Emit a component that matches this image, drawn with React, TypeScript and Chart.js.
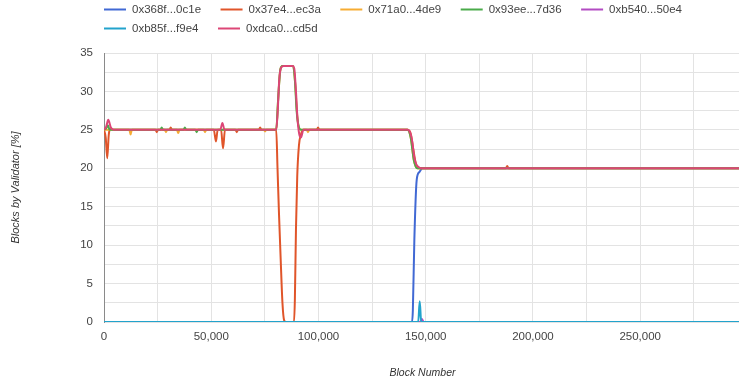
import React, { useEffect, useRef } from 'react';
import { Chart, registerables } from 'chart.js';

Chart.register(...registerables);

// ---- Data ----
const validatorLabels = [
  '0x368f...0c1e',
  '0x37e4...ec3a',
  '0x71a0...4de9',
  '0x93ee...7d36',
  '0xb540...50e4',
  '0xb85f...f9e4',
  '0xdca0...cd5d',
];
const validatorColors = ['#4169d4', '#e0552a', '#f6ac33', '#4aab4a', '#b24bc2', '#22a3cc', '#dc4676'];

const blocks368f = [0, 143600, 144000, 144700, 145800, 147000, 148500, 150000, 297000];
const share368f = [0, 0, 1.5, 10.7, 18.5, 19.5, 20, 20, 20];

const blocks37e4 = [0, 800, 1500, 2200, 3000, 4000, 24000, 24600, 25200, 30500, 31100, 31700, 51200, 52200, 53000, 54600, 55500, 56400, 61300, 61900, 62500, 72200, 72800, 73400, 80300, 80900, 81600, 82400, 83200, 84000, 84800, 88600, 89000, 89500, 90100, 90900, 91800, 93000, 99200, 99800, 100400, 141500, 143000, 144200, 145500, 147000, 187400, 188000, 188600, 297000];
const share37e4 = [25, 24, 21.3, 24.3, 25.2, 25, 25, 24.7, 25, 25, 25.3, 25, 25, 23.5, 25, 25, 22.6, 25, 25, 24.7, 25, 25, 25.3, 25, 25, 20, 14, 8, 2.5, 0.2, 0, 0, 3, 12, 19, 23, 24.4, 25, 25, 25.3, 25, 25, 24.5, 22.5, 20.5, 20, 20, 20.3, 20, 20];

const blocks71a0 = [0, 11800, 12400, 13000, 28300, 28900, 29500, 34000, 34600, 35200, 46500, 47100, 47700, 74500, 75100, 75700, 80300, 81200, 82200, 83200, 88200, 89000, 90200, 91600, 94500, 95100, 95700, 141500, 143000, 144500, 146000, 297000];
const share71a0 = [25, 25, 24.4, 25, 25, 24.7, 25, 25, 24.6, 25, 25, 24.7, 25, 25, 24.8, 25, 25, 29, 32.8, 33.3, 33.3, 31.5, 26.5, 25, 25, 24.7, 25, 25, 24, 21, 20, 20];

const blocks93ee = [0, 1000, 1800, 2600, 26300, 26900, 27500, 37100, 37700, 38300, 42600, 43200, 43800, 80300, 81200, 82200, 83200, 88200, 89000, 89800, 90500, 91300, 92300, 141500, 143000, 144500, 146000, 297000];
const share93ee = [25, 25.2, 25.6, 25, 25, 25.3, 25, 25, 25.3, 25, 25, 24.7, 25, 25, 29, 32.8, 33.3, 33.3, 31.5, 27.5, 25.8, 25.1, 25, 25, 24, 21, 20, 20];

const blocksb540 = [0, 147500, 148200, 149000, 297000];
const shareb540 = [0, 0, 0.4, 0, 0];

const blocksb85f = [0, 146500, 147200, 147900, 297000];
const shareb85f = [0, 0, 2.7, 0, 0];

const blocksdca0 = [0, 1000, 2000, 3200, 4500, 54200, 55200, 56200, 80300, 81000, 81700, 82600, 83800, 88000, 88700, 89500, 90200, 91000, 91800, 93000, 141500, 142800, 143700, 144600, 145600, 147000, 148500, 297000];
const sharedca0 = [25, 25.4, 26.3, 25.3, 25, 25, 25.9, 25, 25, 27.5, 31.5, 33.1, 33.3, 33.3, 33, 30, 26.5, 24.5, 24, 25, 25, 24.6, 23.5, 21.5, 20.5, 20.1, 20, 20];

const seriesBlocks = [blocks368f, blocks37e4, blocks71a0, blocks93ee, blocksb540, blocksb85f, blocksdca0];
const seriesShares = [share368f, share37e4, share71a0, share93ee, shareb540, shareb85f, sharedca0];

const xMax = 297000;
const xGridValues = [0, 25000, 50000, 75000, 100000, 125000, 150000, 175000, 200000, 225000, 250000, 275000];
const xTickValues = [0, 50000, 100000, 150000, 200000, 250000];
const yGridValues = [0, 2.5, 5, 7.5, 10, 12.5, 15, 17.5, 20, 22.5, 25, 27.5, 30, 32.5, 35];
const yTickValues = [0, 5, 10, 15, 20, 25, 30, 35];

const FONT = '"Liberation Sans", Arial, Helvetica, sans-serif';

const legendPlugin = {
  id: 'topLegend',
  afterDraw(chart: any) {
    const ctx = chart.ctx as CanvasRenderingContext2D;
    const left = chart.chartArea.left;
    const maxRight = 725;
    ctx.save();
    ctx.font = `11.5px ${FONT}`;
    ctx.textBaseline = 'middle';
    ctx.textAlign = 'left';
    let x = left;
    let y = 9.5;
    validatorLabels.forEach((label, i) => {
      const w = 28 + ctx.measureText(label).width;
      if (x + w > maxRight) {
        x = left;
        y += 19;
      }
      ctx.strokeStyle = validatorColors[i];
      ctx.lineWidth = 2;
      ctx.beginPath();
      ctx.moveTo(x, y);
      ctx.lineTo(x + 22, y);
      ctx.stroke();
      ctx.fillStyle = '#444';
      ctx.fillText(label, x + 28, y);
      x += w + 19.5;
    });
    ctx.restore();
  },
};

export default function App() {
  const canvasRef = useRef<HTMLCanvasElement | null>(null);

  useEffect(() => {
    if (!canvasRef.current) return;
    const datasets = validatorLabels.map((label, i) => ({
      label,
      data: seriesBlocks[i].map((b, j) => ({ x: b, y: seriesShares[i][j] })),
      borderColor: validatorColors[i],
      backgroundColor: validatorColors[i],
      borderWidth: 2,
      pointRadius: 0,
      pointHoverRadius: 0,
      tension: 0.4,
      cubicInterpolationMode: 'monotone' as const,
      fill: false,
      order: validatorLabels.length - 1 - i,
    }));

    const chart = new Chart(canvasRef.current, {
      type: 'line',
      data: { datasets },
      plugins: [legendPlugin],
      options: {
        animation: false,
        responsive: false,
        devicePixelRatio: 1,
        layout: { padding: { top: 53, left: 0, right: 0, bottom: 0 } },
        plugins: {
          legend: { display: false },
          tooltip: { enabled: false },
        },
        scales: {
          x: {
            type: 'linear',
            min: 0,
            max: xMax,
            afterBuildTicks: (axis: any) => {
              axis.ticks = xGridValues.map((v) => ({ value: v }));
            },
            afterFit: (s: any) => {
              s.height = 65;
            },
            ticks: {
              autoSkip: false,
              maxRotation: 0,
              padding: 8,
              color: '#444',
              font: { family: FONT, size: 11.5 },
              callback: (v: any) => (xTickValues.includes(Number(v)) ? Number(v).toLocaleString('en-US') : ''),
            },
            grid: { color: '#e3e3e3', drawTicks: false, lineWidth: 1 },
            border: { display: false },
            title: {
              display: true,
              text: 'Block Number',
              color: '#333',
              font: { family: FONT, size: 10.5, style: 'italic' },
              padding: { top: 0, bottom: 8 },
            },
          },
          y: {
            type: 'linear',
            min: 0,
            max: 35,
            afterBuildTicks: (axis: any) => {
              axis.ticks = yGridValues.map((v) => ({ value: v }));
            },
            afterFit: (s: any) => {
              s.width = 104;
            },
            ticks: {
              autoSkip: false,
              padding: 11,
              color: '#444',
              font: { family: FONT, size: 11.5 },
              callback: (v: any) => (yTickValues.includes(Number(v)) ? String(v) : ''),
            },
            grid: { color: '#e3e3e3', drawTicks: false, lineWidth: 1 },
            border: { display: true, color: '#8a8a8a', width: 1 },
            title: {
              display: true,
              text: 'Blocks by Validator [%]',
              color: '#333',
              font: { family: FONT, size: 11, style: 'italic' },
              padding: { top: 9.5, bottom: 0 },
            },
          },
        },
      },
    });
    return () => chart.destroy();
  }, []);

  return (
    <div
      style={{
        position: 'fixed',
        left: 0,
        top: 0,
        width: 739,
        height: 387,
        overflow: 'hidden',
        background: '#fff',
      }}
    >
      <canvas ref={canvasRef} width={741} height={387} style={{ display: 'block' }} />
    </div>
  );
}
